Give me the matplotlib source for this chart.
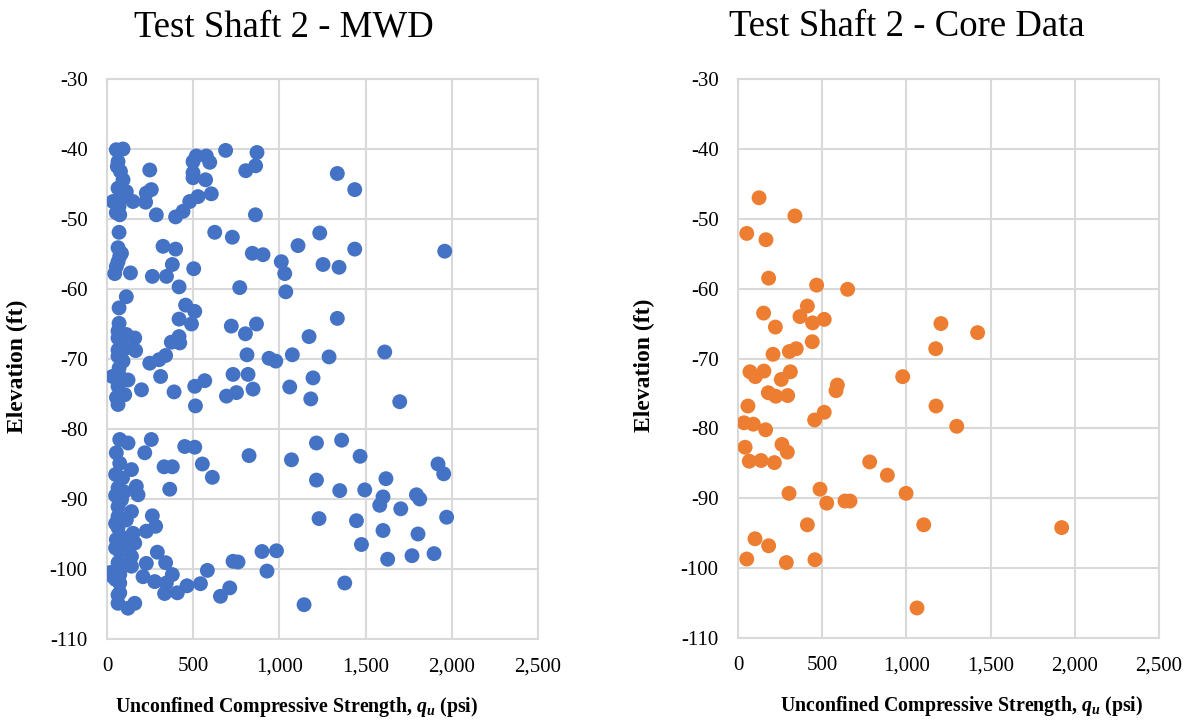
import matplotlib
matplotlib.use('Agg')
import matplotlib.pyplot as plt

plt.rcParams['font.family'] = ['Liberation Serif', 'DejaVu Serif']
plt.rcParams['axes.unicode_minus'] = False
plt.rcParams['mathtext.fontset'] = 'custom'
plt.rcParams['mathtext.rm'] = 'Liberation Serif:bold'
plt.rcParams['mathtext.it'] = 'Liberation Serif:italic:bold'
plt.rcParams['mathtext.bf'] = 'Liberation Serif:bold'

# MWD data, by elevation band
mwd_qu_a = [54, 93, 64, 78, 93, 64, 112, 35, 74, 151,
            54, 74, 60, 70, 248, 257, 228, 224, 286, 398,
            441, 480, 528, 605, 499, 499, 518, 576, 596, 572,
            499, 688, 870, 862, 805, 861, 1336, 1437]
mwd_elev_a = [-40.1, -40.0, -41.8, -43.2, -44.4, -45.6, -46.1, -47.5, -47.2, -47.5,
              -49.1, -49.4, -42.5, -48.2, -43.0, -45.8, -46.3, -47.6, -49.4, -49.7,
              -48.9, -47.5, -46.8, -46.4, -43.4, -41.8, -41.0, -41.0, -41.9, -44.4,
              -44.1, -40.2, -40.5, -42.4, -43.1, -49.4, -43.5, -45.8]

mwd_qu_b = [70, 625, 727, 325, 398, 64, 84, 843, 905, 1108,
            1234, 1011, 1031, 1253, 1346, 1437, 1959, 503, 379, 345,
            263, 418, 770, 1037, 45, 136, 54, 64, 74]
mwd_elev_b = [-51.9, -51.9, -52.6, -53.9, -54.3, -54.1, -54.9, -54.9, -55.1, -53.8,
              -52.0, -56.1, -57.8, -56.5, -56.9, -54.3, -54.6, -57.1, -56.5, -58.2,
              -58.2, -59.7, -59.8, -60.4, -57.8, -57.7, -56.8, -56.1, -55.3]

mwd_qu_c = [112, 70, 456, 509, 70, 418, 490, 721, 867, 803,
            1172, 1336, 64, 112, 161, 418, 373, 422, 166, 64,
            64, 93, 340, 302, 248, 812, 940, 979, 1075, 1288,
            1611, 311, 31, 74, 122, 731, 818, 1195, 567, 509,
            200, 389, 64, 103, 64, 847, 751, 693, 1060, 1182,
            513, 1698, 64, 105, 70, 55]
mwd_elev_c = [-61.1, -62.7, -62.3, -63.2, -64.9, -64.3, -65.0, -65.3, -65.0, -66.4,
              -66.8, -64.2, -67.0, -66.5, -67.0, -66.8, -67.6, -67.7, -68.8, -68.7,
              -69.6, -70.3, -69.5, -70.1, -70.6, -69.4, -69.9, -70.3, -69.4, -69.7,
              -69.0, -72.5, -72.5, -72.5, -73.0, -72.2, -72.2, -72.7, -73.1, -73.9,
              -74.4, -74.7, -73.9, -75.1, -76.5, -74.3, -74.8, -75.3, -74.0, -75.7,
              -76.7, -76.1, -66.0, -68.5, -71.3, -75.5]

mwd_qu_d = [74, 122, 257, 219, 54, 451, 509, 824, 1215, 1361,
            1070, 74, 142, 331, 379, 553, 611, 1215, 1468, 1618,
            1920, 1953, 64, 170, 180, 364, 1350, 1495, 1601, 1582,
            1704, 1795, 1814, 84, 142, 263, 282, 228, 1230, 1447,
            1601, 1804, 1970, 64, 64, 64, 54, 74, 64, 74,
            35, 74, 74, 64, 112, 151, 161, 142, 142, 292,
            340, 228, 379, 209, 277, 344, 334, 408, 464, 542,
            582, 658, 712, 731, 760, 899, 983, 928, 1143, 1476,
            1628, 1769, 1897, 1379, 64, 122, 161, 50, 90, 50,
            100, 50, 90, 50, 90, 100, 20, 50]
mwd_elev_d = [-81.5, -82.0, -81.5, -83.4, -83.4, -82.5, -82.6, -83.8, -82.0, -81.6,
              -84.4, -84.9, -85.8, -85.4, -85.4, -85.0, -86.9, -87.3, -83.9, -87.1,
              -85.0, -86.4, -88.4, -88.2, -89.4, -88.6, -88.8, -88.7, -89.7, -90.9,
              -91.4, -89.4, -90.0, -90.1, -91.8, -92.4, -93.9, -94.6, -92.8, -93.1,
              -94.5, -95.0, -92.6, -91.1, -92.5, -94.1, -95.8, -97.5, -99.1, -100.8,
              -101.1, -102.0, -103.4, -104.9, -93.0, -94.9, -96.3, -98.2, -99.6, -97.6,
              -99.1, -99.2, -100.8, -101.1, -101.8, -102.0, -103.5, -103.4, -102.4, -102.1,
              -100.2, -103.9, -102.7, -98.9, -99.0, -97.5, -97.4, -100.3, -105.1, -96.5,
              -98.6, -98.1, -97.8, -102.0, -103.7, -105.6, -104.9, -86.5, -87.0, -89.5,
              -89.0, -93.5, -95.5, -97.0, -97.0, -99.5, -100.5, -101.5]

# core data
core_qu = [125, 338, 52, 166, 182, 467, 651, 412, 152, 368,
           443, 512, 222, 1205, 441, 1174, 346, 305, 208, 71,
           103, 154, 311, 257, 590, 582, 978, 180, 224, 295,
           59, 1176, 512, 455, 36, 91, 164, 1299, 42, 261,
           293, 67, 137, 216, 782, 887, 998, 303, 487, 527,
           635, 665, 1103, 412, 101, 182, 52, 287, 457, 1063,
           1423, 1922]
core_elev = [-47.0, -49.6, -52.1, -53.0, -58.5, -59.5, -60.1, -62.5, -63.5, -64.0,
             -64.9, -64.4, -65.5, -65.0, -67.6, -68.6, -68.6, -69.0, -69.4, -71.9,
             -72.6, -71.8, -71.9, -73.0, -73.8, -74.6, -72.6, -74.9, -75.4, -75.3,
             -76.8, -76.8, -77.7, -78.8, -79.2, -79.4, -80.2, -79.7, -82.7, -82.3,
             -83.4, -84.7, -84.6, -84.9, -84.8, -86.7, -89.3, -89.3, -88.7, -90.7,
             -90.4, -90.4, -93.8, -93.8, -95.8, -96.8, -98.7, -99.2, -98.8, -105.7,
             -66.3, -94.2]

xticks = [0, 500, 1000, 1500, 2000, 2500]
yticks = [-30, -40, -50, -60, -70, -80, -90, -100, -110]

mwd_qu = mwd_qu_a + mwd_qu_b + mwd_qu_c + mwd_qu_d
mwd_elev = mwd_elev_a + mwd_elev_b + mwd_elev_c + mwd_elev_d

fig = plt.figure(figsize=(11.95, 7.21), dpi=100)
ax1 = fig.add_axes([107 / 1195, 1 - 639 / 721, 431 / 1195, 560 / 721])
ax2 = fig.add_axes([738 / 1195, 1 - 638 / 721, 421 / 1195, 559 / 721])


def style(ax):
    ax.set_xlim(0, 2500)
    ax.set_ylim(-110, -30)
    ax.set_xticks(xticks)
    ax.set_xticklabels(['{:,}'.format(v) for v in xticks])
    ax.set_yticks(yticks)
    ax.grid(True, color='#d9d9d9', linewidth=1.5)
    ax.set_axisbelow(True)
    for s in ax.spines.values():
        s.set_color('#d9d9d9')
        s.set_linewidth(1.5)
    ax.tick_params(length=0, labelsize=15)
    ax.tick_params(axis='y', pad=14)
    ax.tick_params(axis='x', pad=13)
    ax.set_xlabel(r'Unconfined Compressive Strength, $q_u$ (psi)',
                  fontsize=14.3, fontweight='bold')
    ax.set_ylabel('Elevation (ft)', fontsize=17, fontweight='bold')


ax1.scatter(mwd_qu, mwd_elev, s=115, color='#4472C4', edgecolors='none', zorder=3)
ax2.scatter(core_qu, core_elev, s=115, color='#ED7D31', edgecolors='none', zorder=3)
style(ax1)
style(ax2)
ax1.xaxis.set_label_coords(0.44, -0.1)
ax2.xaxis.set_label_coords(0.53, -0.1)
ax1.yaxis.set_label_coords(-0.183, 0.4875)
ax2.yaxis.set_label_coords(-0.197, 0.4875)

fig.text(284 / 1195, 1 - 27 / 721, 'Test Shaft 2 - MWD', fontsize=26.5,
         ha='center', va='center')
fig.text(907 / 1195, 1 - 27 / 721, 'Test Shaft 2 - Core Data', fontsize=26.5,
         ha='center', va='center')

fig.savefig('out.png', dpi=100)
